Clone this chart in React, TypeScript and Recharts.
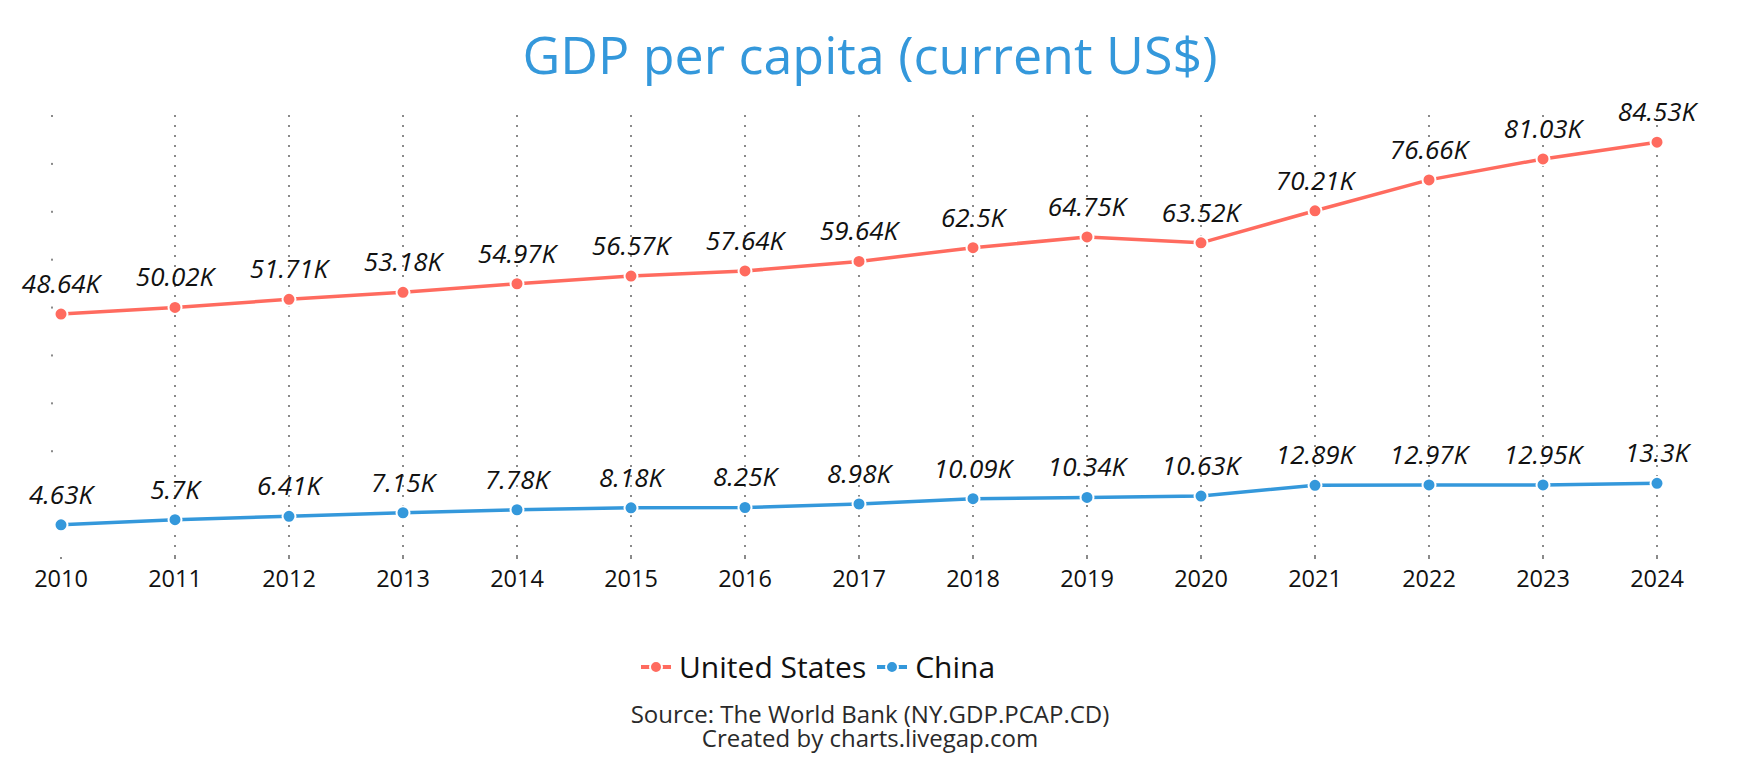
import React from "react";
import { LineChart, Line, XAxis, YAxis, ReferenceLine, LabelList, Legend } from "recharts";

const years = ["2010", "2011", "2012", "2013", "2014", "2015", "2016", "2017", "2018", "2019", "2020", "2021", "2022", "2023", "2024"];
const unitedStates = [48640, 50020, 51710, 53180, 54970, 56570, 57640, 59640, 62500, 64750, 63520, 70210, 76660, 81030, 84530];
const china = [4630, 5700, 6410, 7150, 7780, 8180, 8250, 8980, 10090, 10340, 10630, 12890, 12970, 12950, 13300];
const yTicks = [20000, 30000, 40000, 50000, 60000, 70000, 80000, 90000];

const FONT = "'Open Sans', sans-serif";
const US_COLOR = "#ff6b5f";
const CN_COLOR = "#3498db";
const GRID = "#8a8a8a";

const series = [
  { key: "us", name: "United States", color: US_COLOR },
  { key: "cn", name: "China", color: CN_COLOR },
];

const data = years.map((year, i) => ({ year, us: unitedStates[i], cn: china[i] }));

const fmtK = (v: any) => `${+(Number(v) / 1000).toFixed(2)}K`;

// y ticks have no labels, just a small gray dot at the axis
function YTickDot(props: any) {
  return <rect x={props.x - 1} y={props.y - 1} width={2} height={2} fill={GRID} />;
}

function LegendContent() {
  return (
    <div style={{ display: "flex", alignItems: "center", paddingLeft: 640, fontFamily: FONT, fontSize: 30, lineHeight: "36px", color: "#111" }}>
      {series.map((s) => (
        <div key={s.key} style={{ display: "flex", alignItems: "center", marginRight: 10 }}>
          <svg width={32} height={16}>
            <line x1={1} x2={31} y1={8} y2={8} stroke={s.color} strokeWidth={4} />
            <circle cx={16} cy={8} r={6} fill={s.color} stroke="#fff" strokeWidth={2} />
          </svg>
          <span style={{ marginLeft: 7 }}>{s.name}</span>
        </div>
      ))}
    </div>
  );
}

export default function App() {
  return (
    <div style={{ position: "absolute", left: 0, top: 0, width: 1740, height: 780, background: "#fff", fontFamily: FONT }}>
      <div style={{ position: "absolute", top: 28, left: 0, width: 1740, textAlign: "center", fontSize: 52, lineHeight: "52px", color: CN_COLOR }}>
        GDP per capita (current US$)
      </div>
      <LineChart width={1740} height={780} data={data} margin={{ top: 107, right: 83, bottom: 193, left: 51 }}>
        {years.slice(1).map((y) => (
          <ReferenceLine key={y} x={y} stroke={GRID} strokeWidth={2} strokeDasharray="2 8" />
        ))}
        <XAxis
          dataKey="year"
          padding={{ left: 9, right: 0 }}
          axisLine={false}
          tickLine={{ stroke: GRID, strokeWidth: 2 }}
          tickSize={2}
          tickMargin={11}
          height={30}
          interval={0}
          tick={{ fill: "#111", fontSize: 23.5, fontFamily: FONT }}
        />
        <YAxis
          width={1}
          domain={[0, 90000]}
          ticks={yTicks}
          padding={{ top: 9, bottom: 10 }}
          axisLine={false}
          tickLine={false}
          tickSize={0}
          tickMargin={0}
          tick={<YTickDot />}
        />
        <Legend verticalAlign="middle" align="center" layout="horizontal" content={<LegendContent />} wrapperStyle={{ top: 649, left: 0, width: 1740 }} />
        {series.map((s) => (
          <Line
            key={s.key}
            type="linear"
            dataKey={s.key}
            name={s.name}
            stroke={s.color}
            strokeWidth={3.5}
            dot={{ r: 6.5, fill: s.color, stroke: "#fff", strokeWidth: 2 }}
            activeDot={false}
            isAnimationActive={false}
          >
            <LabelList dataKey={s.key} position="top" offset={21} formatter={fmtK} fill="#111" fontSize={26} fontStyle="italic" fontFamily={FONT} />
          </Line>
        ))}
      </LineChart>
      <div style={{ position: "absolute", top: 702, left: 0, width: 1740, textAlign: "center", fontSize: 24, lineHeight: "24px", color: "#2a2a2a" }}>
        Source: The World Bank (NY.GDP.PCAP.CD)
        <br />
        Created by charts.livegap.com
      </div>
    </div>
  );
}
